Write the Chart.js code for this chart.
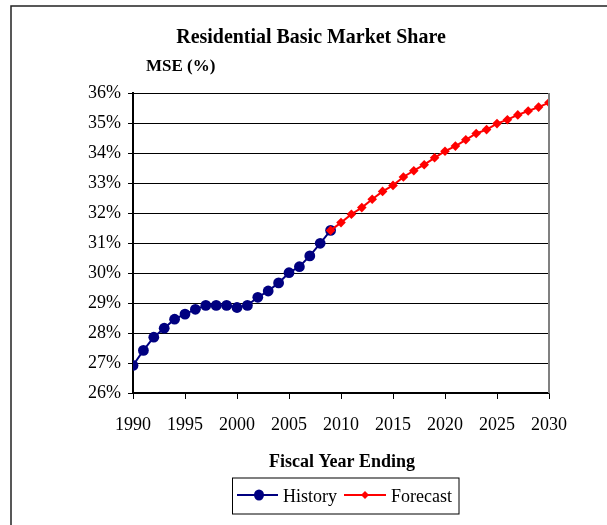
<!DOCTYPE html>
<html>
<head>
<meta charset="utf-8">
<script src="https://cdn.jsdelivr.net/npm/chart.js@4"></script>
<style>
  html, body { margin: 0; padding: 0; background: #fff; }
  canvas { display: block; }
</style>
</head>
<body>
<canvas id="c" width="607" height="525"></canvas>
<script>
const chartTitle = "Residential Basic Market Share";
const yAxisLabel = "MSE (%)";
const xAxisLabel = "Fiscal Year Ending";
const historyLabel = "History";
const forecastLabel = "Forecast";

const historyYears = [1990,1991,1992,1993,1994,1995,1996,1997,1998,1999,2000,2001,2002,2003,2004,2005,2006,2007,2008,2009];
const historyValues = [26.92,27.42,27.86,28.16,28.46,28.63,28.79,28.92,28.92,28.92,28.85,28.92,29.19,29.40,29.67,30.01,30.21,30.57,30.99,31.42];

const forecastYears = [2009,2010,2011,2012,2013,2014,2015,2016,2017,2018,2019,2020,2021,2022,2023,2024,2025,2026,2027,2028,2029,2030];
const forecastValues = [31.42,31.68,31.96,32.18,32.46,32.72,32.92,33.20,33.41,33.61,33.84,34.06,34.23,34.44,34.65,34.78,34.98,35.11,35.27,35.40,35.53,35.68];

const yMin = 26, yMax = 36, yStep = 1;
const xMin = 1990, xMax = 2030, xStep = 5;

const NAVY = '#000080';
const RED = '#FF0000';
const FONT = '"Liberation Serif", "Times New Roman", serif';

const toPoints = (xs, ys) => xs.map((x, i) => ({ x: x, y: ys[i] }));

const decorPlugin = {
  id: 'decor',
  beforeDraw(chart) {
    const ctx = chart.ctx;
    ctx.save();
    ctx.fillStyle = '#fff';
    ctx.fillRect(0, 0, chart.width, chart.height);
    // outer frame (left and top edges visible)
    ctx.strokeStyle = '#222';
    ctx.lineWidth = 1.5;
    ctx.beginPath();
    ctx.moveTo(11, chart.height + 2);
    ctx.lineTo(11, 6);
    ctx.lineTo(chart.width + 2, 6);
    ctx.stroke();
    ctx.restore();
  },
  afterDatasetsDraw(chart) {
    const ctx = chart.ctx;
    const a = chart.chartArea;
    ctx.save();
    // right border of plot area (gray)
    ctx.strokeStyle = '#808080';
    ctx.lineWidth = 2;
    ctx.beginPath();
    ctx.moveTo(a.right, a.top);
    ctx.lineTo(a.right, a.bottom);
    ctx.stroke();
    ctx.restore();
  },
  afterDraw(chart) {
    const ctx = chart.ctx;
    ctx.save();
    ctx.fillStyle = '#000';
    ctx.textBaseline = 'alphabetic';
    // main title (slightly condensed, as in the reference)
    ctx.save();
    ctx.font = 'bold 21px ' + FONT;
    ctx.textAlign = 'center';
    ctx.translate(311, 43);
    ctx.scale(0.95, 1);
    ctx.fillText(chartTitle, 0, 0);
    ctx.restore();
    // y-axis label
    ctx.font = 'bold 17px ' + FONT;
    ctx.textAlign = 'left';
    ctx.fillText(yAxisLabel, 146, 71);
    // x-axis title
    ctx.font = 'bold 18px ' + FONT;
    ctx.textAlign = 'center';
    ctx.fillText(xAxisLabel, 342, 467);

    // legend box
    const lx = 232.5, ly = 478, lw = 226.5, lh = 36;
    ctx.strokeStyle = '#000';
    ctx.lineWidth = 1;
    ctx.strokeRect(lx, ly, lw, lh);
    const cy = 495;
    // History entry
    ctx.strokeStyle = NAVY;
    ctx.lineWidth = 2;
    ctx.beginPath();
    ctx.moveTo(237, cy);
    ctx.lineTo(278, cy);
    ctx.stroke();
    ctx.fillStyle = NAVY;
    ctx.beginPath();
    ctx.ellipse(259, cy, 5, 5.5, 0, 0, Math.PI * 2);
    ctx.fill();
    // Forecast entry
    ctx.strokeStyle = RED;
    ctx.beginPath();
    ctx.moveTo(344, cy);
    ctx.lineTo(386, cy);
    ctx.stroke();
    ctx.fillStyle = RED;
    ctx.beginPath();
    ctx.moveTo(365, cy - 4);
    ctx.lineTo(369, cy);
    ctx.lineTo(365, cy + 4);
    ctx.lineTo(361, cy);
    ctx.closePath();
    ctx.fill();
    // legend text
    ctx.fillStyle = '#000';
    ctx.font = '18px ' + FONT;
    ctx.textAlign = 'left';
    ctx.fillText(historyLabel, 283, 502);
    ctx.fillText(forecastLabel, 391, 502);
    ctx.restore();
  }
};

new Chart(document.getElementById('c'), {
  type: 'line',
  data: {
    datasets: [
      {
        label: historyLabel,
        data: toPoints(historyYears, historyValues),
        borderColor: NAVY,
        backgroundColor: NAVY,
        borderWidth: 2,
        pointStyle: 'circle',
        pointRadius: 5.4,
        pointBorderWidth: 0,
        pointBackgroundColor: NAVY,
        pointBorderColor: NAVY,
        tension: 0,
        order: 1
      },
      {
        label: forecastLabel,
        data: toPoints(forecastYears, forecastValues),
        borderColor: RED,
        backgroundColor: RED,
        borderWidth: 2,
        pointStyle: 'rectRot',
        pointRadius: 4.8,
        pointBorderWidth: 0,
        pointBackgroundColor: RED,
        pointBorderColor: RED,
        tension: 0,
        order: 0
      }
    ]
  },
  options: {
    responsive: false,
    animation: false,
    devicePixelRatio: 1,
    layout: { padding: { left: 0, right: 58, top: 93, bottom: 82 } },
    plugins: {
      legend: { display: false },
      title: { display: false },
      tooltip: { enabled: false }
    },
    scales: {
      x: {
        type: 'linear',
        min: xMin,
        max: xMax,
        afterFit(scale) { scale.height = 50; },
        afterBuildTicks(scale) {
          const t = [];
          for (let v = xMin; v <= xMax; v += xStep) t.push({ value: v });
          scale.ticks = t;
        },
        border: { display: true, color: '#000', width: 1.5 },
        grid: { drawOnChartArea: false, drawTicks: true, tickLength: 6, color: '#000', lineWidth: 1 },
        ticks: {
          color: '#000',
          font: { family: FONT, size: 18 },
          padding: 15,
          maxRotation: 0,
          autoSkip: false,
          callback: v => String(v)
        }
      },
      y: {
        type: 'linear',
        min: yMin,
        max: yMax,
        afterFit(scale) { scale.width = 133; },
        border: { display: true, color: '#000', width: 2 },
        grid: { drawOnChartArea: true, drawTicks: true, tickLength: 5, color: '#000', lineWidth: 1 },
        ticks: {
          stepSize: yStep,
          color: '#000',
          font: { family: FONT, size: 18 },
          padding: 7,
          callback: v => v + '%'
        }
      }
    }
  },
  plugins: [decorPlugin]
});
</script>
</body>
</html>
